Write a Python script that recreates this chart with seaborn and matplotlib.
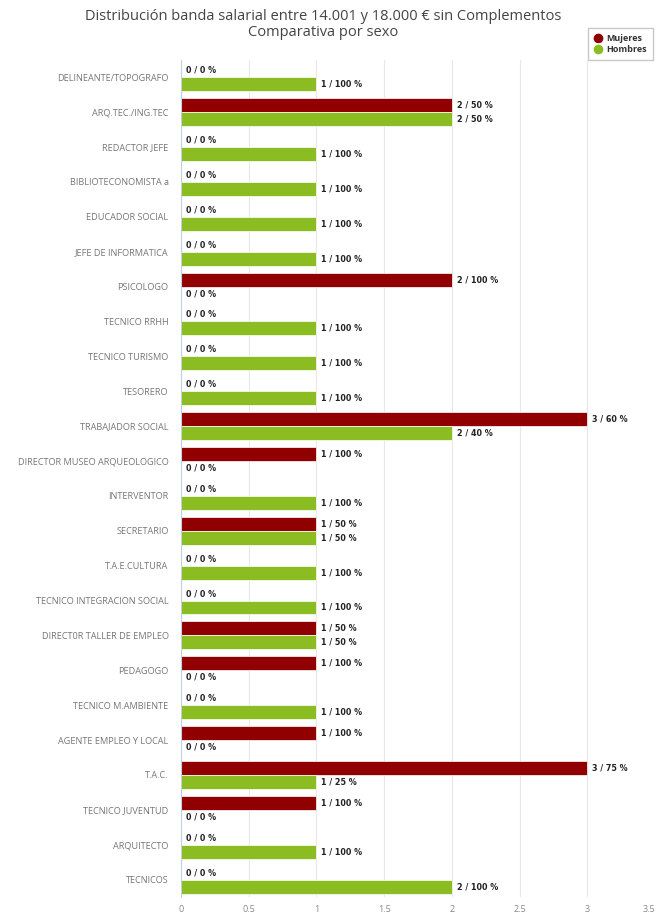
import pandas as pd
import seaborn as sns
from matplotlib import pyplot as plt
from matplotlib.lines import Line2D

# Categories and counts per sex
puestos = [
    "DELINEANTE/TOPOGRAFO", "ARQ.TEC./ING.TEC", "REDACTOR JEFE", "BIBLIOTECONOMISTA a",
    "EDUCADOR SOCIAL", "JEFE DE INFORMATICA", "PSICOLOGO", "TECNICO RRHH",
    "TECNICO TURISMO", "TESORERO", "TRABAJADOR SOCIAL", "DIRECTOR MUSEO ARQUEOLOGICO",
    "INTERVENTOR", "SECRETARIO", "T.A.E.CULTURA", "TECNICO INTEGRACION SOCIAL",
    "DIRECT0R TALLER DE EMPLEO", "PEDAGOGO", "TECNICO M.AMBIENTE", "AGENTE EMPLEO Y LOCAL",
    "T.A.C.", "TECNICO JUVENTUD", "ARQUITECTO", "TECNICOS",
]
mujeres = [0, 2, 0, 0, 0, 0, 2, 0, 0, 0, 3, 1, 0, 1, 0, 0, 1, 1, 0, 1, 3, 1, 0, 0]
hombres = [1, 2, 1, 1, 1, 1, 0, 1, 1, 1, 2, 0, 1, 1, 1, 1, 1, 0, 1, 0, 1, 0, 1, 2]
pct_mujeres = [0, 50, 0, 0, 0, 0, 100, 0, 0, 0, 60, 100, 0, 50, 0, 0, 50, 100, 0, 100, 75, 100, 0, 0]
pct_hombres = [100, 50, 100, 100, 100, 100, 0, 100, 100, 100, 40, 0, 100, 50, 100, 100, 50, 0, 100, 0, 25, 0, 100, 100]

series = ["Mujeres", "Hombres"]
colors = {"Mujeres": "#910000", "Hombres": "#8bbc21"}

df = pd.concat([
    pd.DataFrame({"puesto": puestos, "sexo": "Mujeres", "n": mujeres, "pct": pct_mujeres}),
    pd.DataFrame({"puesto": puestos, "sexo": "Hombres", "n": hombres, "pct": pct_hombres}),
], ignore_index=True)

sns.set_style("white")
plt.rcParams['font.family'] = ['Open Sans', 'DejaVu Sans']

fig = plt.figure(figsize=(6.59, 9.13), dpi=100)
ax = fig.add_axes([0.2747, 0.0175, 0.7193, 0.917])

sns.barplot(data=df, y="puesto", x="n", hue="sexo", hue_order=series, order=puestos,
            palette=colors, saturation=1, orient="h", width=0.8, ax=ax, legend=False,
            edgecolor="white", linewidth=0.5)

# Bar labels "n / p %"
for cont, s in zip(ax.containers, series):
    sub = df[df["sexo"] == s].set_index("puesto").loc[puestos]
    labels = [f"{n} / {p} %" for n, p in zip(sub["n"], sub["pct"])]
    ax.bar_label(cont, labels=labels, padding=3.5, fontsize=5.8, fontweight="bold",
                 color="#222222", family="DejaVu Sans")

ax.set_xlim(0, 3.5)
ax.set_xticks([0, 0.5, 1, 1.5, 2, 2.5, 3, 3.5])
ax.set_xticklabels(["0", "0.5", "1", "1.5", "2", "2.5", "3", "3.5"])
ax.get_xticklabels()[-1].set_horizontalalignment("right")
ax.xaxis.grid(True, color="#e8e8e8", linewidth=0.8)
ax.set_axisbelow(True)
ax.set_xlabel("")
ax.set_ylabel("")
ax.tick_params(axis="x", labelsize=6.5, colors="#888888", length=0, pad=6)
ax.tick_params(axis="y", labelsize=6.6, colors="#777777", length=0, pad=9)
for side in ["top", "right", "bottom"]:
    ax.spines[side].set_visible(False)
ax.spines["left"].set_color("#c0d0e0")
ax.spines["left"].set_linewidth(0.8)

fig.text(0.49, 0.982, "Distribución banda salarial entre 14.001 y 18.000 € sin Complementos",
         ha="center", va="center", fontsize=10.5, color="#444444")
fig.text(0.49, 0.964, "Comparativa por sexo", ha="center", va="center", fontsize=10.5,
         color="#444444")

handles = [Line2D([0], [0], marker="o", color="w", markerfacecolor=colors[s], markersize=8,
                  label=s) for s in series]
leg = fig.legend(handles=handles, loc="upper right", bbox_to_anchor=(0.997, 0.974),
                 fontsize=6.5, frameon=True, handletextpad=0.3, borderpad=0.6,
                 labelspacing=0.3, fancybox=False, handlelength=1.2)
leg.get_frame().set_edgecolor("#bbbbbb")
for t in leg.get_texts():
    t.set_fontweight("bold")
    t.set_color("#333333")

fig.savefig("out.png", dpi=100)
